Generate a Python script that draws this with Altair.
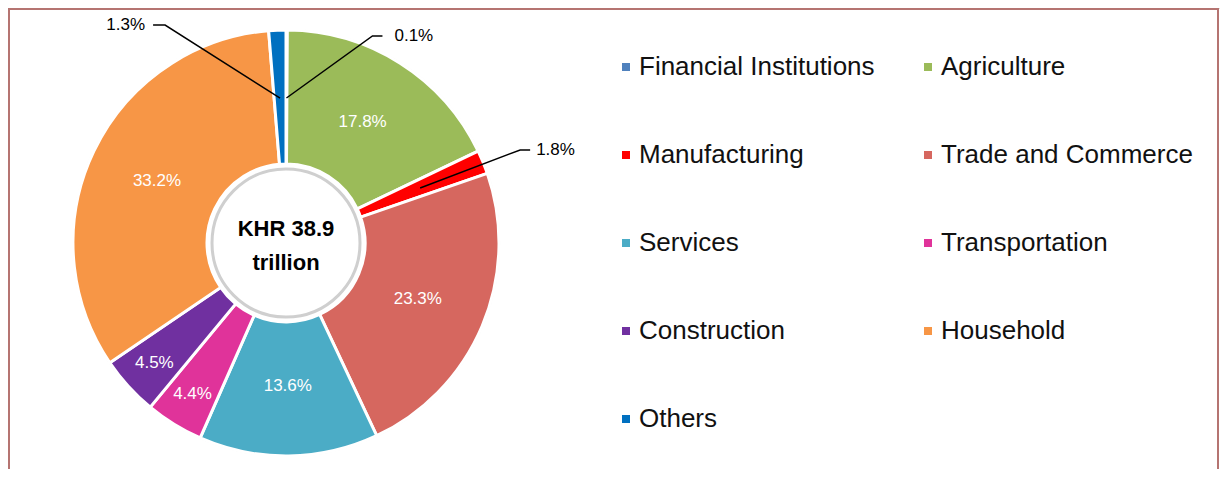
import altair as alt
import pandas as pd
import numpy as np

# ---- data ----
categories = ["Financial Institutions", "Agriculture", "Manufacturing",
              "Trade and Commerce", "Services", "Transportation",
              "Construction", "Household", "Others"]
shares = [0.1, 17.8, 1.8, 23.3, 13.6, 4.4, 4.5, 33.2, 1.3]
colors = ["#4F81BD", "#9BBB59", "#FF0000", "#D6675F", "#4BACC6",
          "#E0339A", "#7030A0", "#F79646", "#0070C0"]
center_text = ["KHR 38.9", "trillion"]

# ---- layout / style constants ----
W, H = 1212, 461
CX, CY = 278, 235
R_OUT, R_IN = 213, 79
R_LEAD = 145
# leader style per small slice: elbow dx, dy, end dx, dy, text align, text gap
LEADER = {
    "Financial Institutions": (86, -62, 96, -62, "left", 12),
    "Manufacturing": (100, -38, 110, -38, "left", 6),
    "Others": (-115, -73, -127, -73, "right", -8),
}
FONT = "Liberation Sans"

df = pd.DataFrame({"category": categories, "share": shares, "idx": range(len(categories))})
df["label"] = df["share"].map(lambda v: f"{v:.1f}%")
df["lab_big"] = np.where(df["share"] >= 10, df["label"], "")
df["lab_mid"] = np.where((df["share"] >= 3) & (df["share"] < 10), df["label"], "")

# mid angle of every slice (clockwise from 12 o'clock)
cum = df["share"].cumsum()
mid = (cum - df["share"] / 2) / df["share"].sum() * 2 * np.pi
df["mid"] = mid

line_rows, text_rows = [], []
for _, r in df.iterrows():
    if r["category"] not in LEADER:
        continue
    ex, ey, nx, ny, al, gap = LEADER[r["category"]]
    sx = CX + R_LEAD * np.sin(r["mid"])
    sy = CY - R_LEAD * np.cos(r["mid"])
    pts = [(sx, sy), (sx + ex, sy + ey), (sx + nx, sy + ny)]
    for k, (px, py) in enumerate(pts):
        line_rows.append({"category": r["category"], "k": k, "x": px, "y": py})
    text_rows.append({"category": r["category"], "label": r["label"],
                      "x": sx + nx + gap, "y": sy + ny, "align": al})
lines = pd.DataFrame(line_rows)
outer = pd.DataFrame(text_rows)

xs = alt.X("x:Q", scale=alt.Scale(domain=[0, W], range=[0, W], nice=False, zero=False), axis=None)
ys = alt.Y("y:Q", scale=alt.Scale(domain=[0, H], range=[0, H], nice=False, zero=False), axis=None)

theta = alt.Theta("share:Q", stack=True)
order = alt.Order("idx:Q", sort="ascending")

arcs = alt.Chart(df).mark_arc(outerRadius=R_OUT, innerRadius=R_IN, stroke="white",
                              strokeWidth=3).encode(
    theta=theta,
    order=order,
    color=alt.Color("category:N",
                    scale=alt.Scale(domain=categories, range=colors),
                    legend=alt.Legend(orient="none", legendX=605, legendY=46,
                                      columns=2, direction="horizontal",
                                      title=None, symbolType="square",
                                      symbolSize=64, symbolStrokeWidth=0,
                                      labelFont=FONT, labelFontSize=26,
                                      labelColor="#111111", labelOffset=0,
                                      labelLimit=0, rowPadding=62,
                                      columnPadding=40, padding=0)),
    x=alt.value(CX), y=alt.value(CY),
)

ring = alt.Chart(pd.DataFrame({"a": [0]})).mark_arc(
    theta=0, theta2=6.2832, outerRadius=R_OUT + 1, innerRadius=R_OUT - 1,
    fill="#e4e4e4", opacity=0.6
).encode(x=alt.value(CX), y=alt.value(CY))

disk = alt.Chart(pd.DataFrame({"a": [0]})).mark_arc(
    theta=0, theta2=6.2832, outerRadius=74, innerRadius=0,
    fill="white", stroke="#cfcfcf", strokeWidth=3
).encode(x=alt.value(CX), y=alt.value(CY))

big_lab = alt.Chart(df).mark_text(radius=143, font=FONT, fontSize=17, color="white").encode(
    theta=theta, order=order, text="lab_big:N", x=alt.value(CX), y=alt.value(CY))

mid_lab = alt.Chart(df).mark_text(radius=178, font=FONT, fontSize=17, color="white").encode(
    theta=theta, order=order, text="lab_mid:N", x=alt.value(CX), y=alt.value(CY))

center = alt.Chart(pd.DataFrame({"t": ["\n".join(center_text)]})).mark_text(
    font=FONT, fontSize=22, fontWeight="bold", color="black",
    lineBreak="\n", lineHeight=34, baseline="middle", dy=-14
).encode(text="t:N", x=alt.value(CX), y=alt.value(CY))

leader = alt.Chart(lines).mark_line(color="black", strokeWidth=1.5).encode(
    x=xs, y=ys, detail="category:N", order="k:Q")

out_left = alt.Chart(outer).transform_filter(alt.datum.align == "left").mark_text(
    align="left", baseline="middle", font=FONT, fontSize=17, color="black"
).encode(x=xs, y=ys, text="label:N")

out_right = alt.Chart(outer).transform_filter(alt.datum.align == "right").mark_text(
    align="right", baseline="middle", font=FONT, fontSize=17, color="black"
).encode(x=xs, y=ys, text="label:N")

bdata = pd.DataFrame({"a": [0]})
border_col = "#B57471"
b_top = alt.Chart(bdata).mark_rule(color=border_col, strokeWidth=2).encode(
    x=alt.value(0), x2=alt.value(W - 1), y=alt.value(1))
b_left = alt.Chart(bdata).mark_rule(color=border_col, strokeWidth=2).encode(
    x=alt.value(1), y=alt.value(0), y2=alt.value(H))
b_right = alt.Chart(bdata).mark_rule(color=border_col, strokeWidth=2).encode(
    x=alt.value(W - 2), y=alt.value(0), y2=alt.value(H))

chart = alt.layer(
    ring, arcs, disk, big_lab, mid_lab, center, leader, out_left, out_right,
    b_top, b_left, b_right
).properties(
    width=W, height=H, padding=0, autosize=alt.AutoSizeParams(type="none")
).configure_view(stroke=None).configure(background="white")

chart.save("out.html", embed_options={"renderer": "svg", "actions": False})
